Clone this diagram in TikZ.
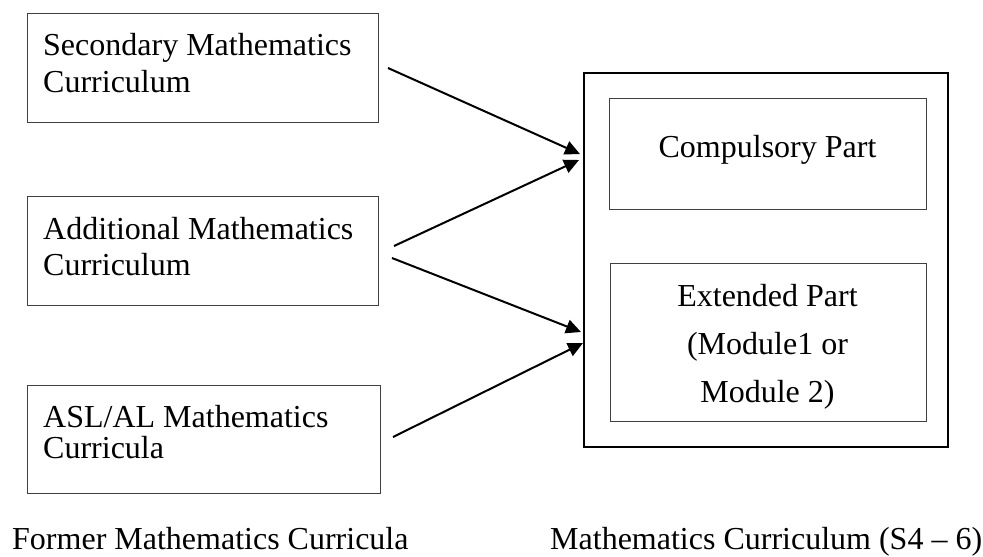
\documentclass[tikz,border=0pt]{standalone}
\usepackage{fontspec}
\setmainfont{Liberation Serif}
\usetikzlibrary{arrows.meta}
\begin{document}
\begin{tikzpicture}[x=1pt,y=-1pt,
  box/.style={draw=black!75,line width=1pt,rectangle,inner sep=0pt},
  outerbox/.style={draw=black,line width=1.3pt,rectangle,inner sep=0pt},
  txt/.style={inner sep=0pt,font=\fontsize{32}{37}\selectfont},
  conn/.style={line width=2pt,-{Triangle[length=15pt,width=14pt]}}]
\useasboundingbox (0,0) rectangle (983,557);
% left boxes
\node[box,minimum width=351pt,minimum height=109pt] (b1) at (202.5,67.5) {};
\node[box,minimum width=351pt,minimum height=109pt] (b2) at (202.5,250.5) {};
\node[box,minimum width=353pt,minimum height=108pt] (b3) at (203.5,439) {};
\node[txt,anchor=base west] (t1a) at (43,55) {Secondary Mathematics};
\node[txt,anchor=base west] (t1b) at (43,92) {Curriculum};
\node[txt,anchor=base west] (t2a) at (43,239) {Additional Mathematics};
\node[txt,anchor=base west] (t2b) at (43,275) {Curriculum};
\node[txt,anchor=base west] (t3a) at (43,427) {ASL/AL Mathematics};
\node[txt,anchor=base west] (t3b) at (43,458) {Curricula};
% right boxes
\node[outerbox,minimum width=364pt,minimum height=374pt] (out) at (766,260) {};
\node[box,minimum width=317pt,minimum height=111pt] (c) at (767.5,153.5) {};
\node[box,minimum width=316pt,minimum height=158pt] (e) at (768,342) {};
\node[txt,anchor=base] (ct) at (767.5,157) {Compulsory Part};
\node[txt,anchor=base] (e1) at (767.5,306) {Extended Part};
\node[txt,anchor=base] (e2) at (767.5,354) {(Module1 or};
\node[txt,anchor=base] (e3) at (767.5,402) {Module 2)};
% captions
\node[txt,anchor=base west] (cap1) at (12,549) {Former Mathematics Curricula};
\node[txt,anchor=base west] (cap2) at (550,549) {Mathematics Curriculum (S4 -- 6)};
% connectors
\coordinate (s1) at (388,68);
\coordinate (s2) at (394,246);
\coordinate (s3) at (392,258);
\coordinate (s4) at (393,437);
\coordinate (p1) at (580,154);
\coordinate (p2) at (579,160);
\coordinate (p3) at (581,332);
\coordinate (p4) at (583,343);
\draw[conn] (s1) -- (p1);
\draw[conn] (s2) -- (p2);
\draw[conn] (s3) -- (p3);
\draw[conn] (s4) -- (p4);
\end{tikzpicture}
\end{document}
